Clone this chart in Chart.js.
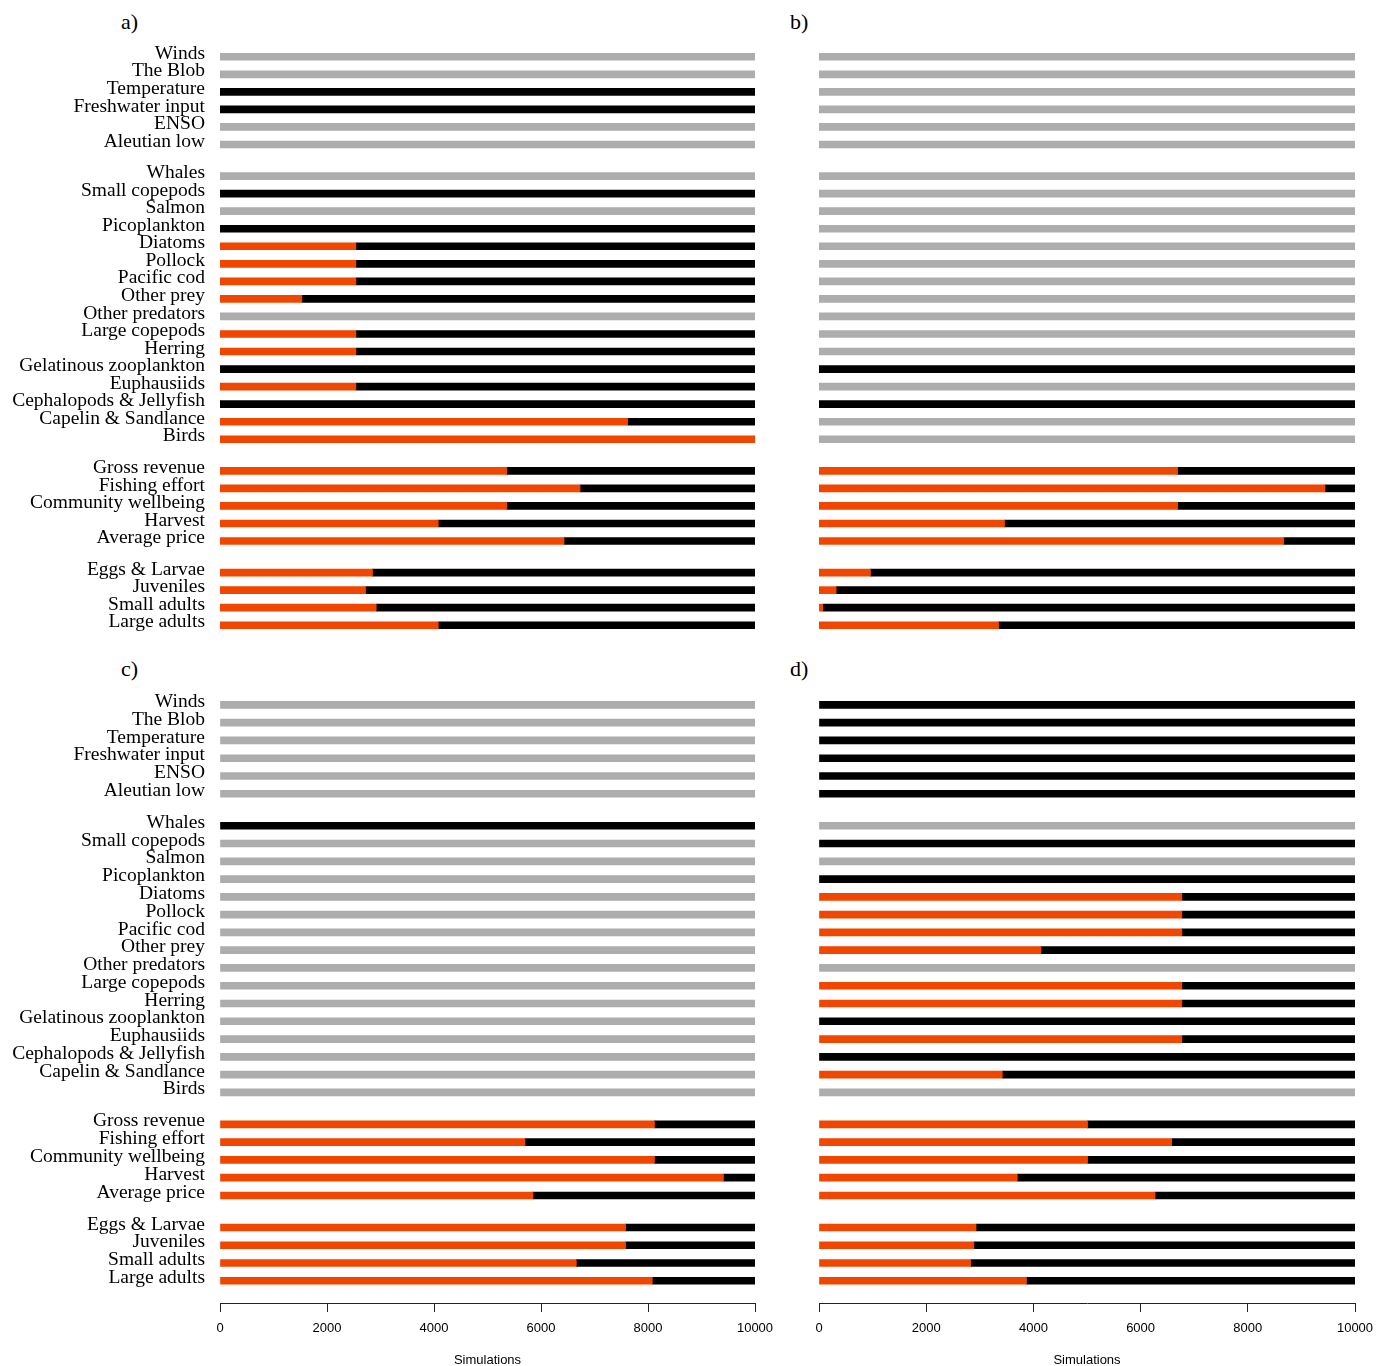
<!DOCTYPE html>
<html lang="en">
<head>
  <meta charset="UTF-8" />
  <title>Simulation outcomes by panel</title>
  <script src="https://cdn.jsdelivr.net/npm/chart.js"></script>
  <style>
    body {
      margin: 0;
      width: 1388px;
      height: 1366px;
      overflow: hidden;
      background: #fff;
      position: relative;
      font-family: 'Liberation Serif', 'Times New Roman', serif;
    }
    canvas { position: absolute; }
    .tag {
      position: absolute;
      font-size: 22px;
      line-height: 1;
      color: #000;
    }
  </style>
</head>
<body>
  <div class="tag" style="left:121px;top:11px">a)</div>
  <div class="tag" style="left:790px;top:11px">b)</div>
  <div class="tag" style="left:121px;top:658px">c)</div>
  <div class="tag" style="left:790px;top:658px">d)</div>

  <canvas id="pa" width="800" height="670" style="left:0;top:0"></canvas>
  <canvas id="pb" width="620" height="670" style="left:780px;top:0"></canvas>
  <canvas id="pc" width="800" height="730" style="left:0;top:650px"></canvas>
  <canvas id="pd" width="620" height="730" style="left:780px;top:650px"></canvas>

  <script>
    const driverLabels = ['Winds', 'The Blob', 'Temperature', 'Freshwater input', 'ENSO', 'Aleutian low'];
    const speciesLabels = ['Whales', 'Small copepods', 'Salmon', 'Picoplankton', 'Diatoms', 'Pollock', 'Pacific cod',
      'Other prey', 'Other predators', 'Large copepods', 'Herring', 'Gelatinous zooplankton', 'Euphausiids',
      'Cephalopods & Jellyfish', 'Capelin & Sandlance', 'Birds'];
    const fisheryLabels = ['Gross revenue', 'Fishing effort', 'Community wellbeing', 'Harvest', 'Average price'];
    const stageLabels = ['Eggs & Larvae', 'Juveniles', 'Small adults', 'Large adults'];

    const xTicks = [0, 2000, 4000, 6000, 8000, 10000];

    // simulations per row: orange part, black part, grey (whole bar)
    const aOrange = [null, null, null, null, null, null,
      null, null, null, null, 2540, 2540, 2540, 1530, null, 2540, 2540, null, 2540, null, 7620, 10000,
      5360, 6730, 5360, 4080, 6430,
      2850, 2720, 2920, 4080];
    const aBlack = [null, null, 10000, 10000, null, null,
      null, 10000, null, 10000, 7460, 7460, 7460, 8470, null, 7460, 7460, 10000, 7460, 10000, 2380, null,
      4640, 3270, 4640, 5920, 3570,
      7150, 7280, 7080, 5920];
    const aGrey = [10000, 10000, null, null, 10000, 10000,
      10000, null, 10000, null, null, null, null, null, 10000, null, null, null, null, null, null, null,
      null, null, null, null, null,
      null, null, null, null];

    const bOrange = [null, null, null, null, null, null,
      null, null, null, null, null, null, null, null, null, null, null, null, null, null, null, null,
      6690, 9440, 6690, 3460, 8670,
      960, 320, 70, 3350];
    const bBlack = [null, null, null, null, null, null,
      null, null, null, null, null, null, null, null, null, null, null, 10000, null, 10000, null, null,
      3310, 560, 3310, 6540, 1330,
      9040, 9680, 9930, 6650];
    const bGrey = [10000, 10000, 10000, 10000, 10000, 10000,
      10000, 10000, 10000, 10000, 10000, 10000, 10000, 10000, 10000, 10000, 10000, null, 10000, null, 10000, 10000,
      null, null, null, null, null,
      null, null, null, null];

    const cOrange = [null, null, null, null, null, null,
      null, null, null, null, null, null, null, null, null, null, null, null, null, null, null, null,
      8120, 5700, 8120, 9410, 5850,
      7580, 7580, 6660, 8080];
    const cBlack = [null, null, null, null, null, null,
      10000, null, null, null, null, null, null, null, null, null, null, null, null, null, null, null,
      1880, 4300, 1880, 590, 4150,
      2420, 2420, 3340, 1920];
    const cGrey = [10000, 10000, 10000, 10000, 10000, 10000,
      null, 10000, 10000, 10000, 10000, 10000, 10000, 10000, 10000, 10000, 10000, 10000, 10000, 10000, 10000, 10000,
      null, null, null, null, null,
      null, null, null, null];

    const dOrange = [null, null, null, null, null, null,
      null, null, null, null, 6770, 6770, 6770, 4140, null, 6770, 6770, null, 6770, null, 3420, null,
      5010, 6580, 5010, 3700, 6270,
      2930, 2890, 2830, 3870];
    const dBlack = [10000, 10000, 10000, 10000, 10000, 10000,
      null, 10000, null, 10000, 3230, 3230, 3230, 5860, null, 3230, 3230, 10000, 3230, 10000, 6580, null,
      4990, 3420, 4990, 6300, 3730,
      7070, 7110, 7170, 6130];
    const dGrey = [null, null, null, null, null, null,
      10000, null, 10000, null, null, null, null, null, 10000, null, null, null, null, null, null, 10000,
      null, null, null, null, null,
      null, null, null, null];

    const ORANGE = '#f04600';
    const BLACK = '#000000';
    const GREY = '#adadad';
    const GAP = 0.8;   // extra space between groups, in rows

    const groups = [driverLabels, speciesLabels, fisheryLabels, stageLabels];
    const labels = groups.flat();
    const rowPos = [];
    groups.forEach((g, gi) => g.forEach(() => rowPos.push(rowPos.length + gi * GAP)));
    const lastPos = rowPos[rowPos.length - 1];

    const serif = "'Liberation Serif', 'Times New Roman', serif";
    const sans = "'Liberation Sans', Arial, sans-serif";

    function series(values, color) {
      return {
        data: rowPos.map((p, i) => ({ x: values[i], y: p })),
        backgroundColor: color,
        borderWidth: 0,
        barThickness: 7
      };
    }

    function makePanel(id, orange, black, grey, cfg) {
      const ctx = document.getElementById(id).getContext('2d');
      return new Chart(ctx, {
        type: 'bar',
        data: {
          datasets: [series(orange, ORANGE), series(black, BLACK), series(grey, GREY)]
        },
        options: {
          indexAxis: 'y',
          responsive: false,
          animation: false,
          devicePixelRatio: 1,
          layout: { padding: cfg.padding },
          plugins: { legend: { display: false }, tooltip: { enabled: false } },
          scales: {
            x: {
              type: 'linear',
              stacked: true,
              min: 0,
              max: 10000,
              display: cfg.axis,
              afterBuildTicks: s => { s.ticks = xTicks.map(v => ({ value: v })); },
              afterFit: s => { s.height = cfg.axis ? 65 : 0; },
              grid: { drawOnChartArea: false, tickLength: 9, color: '#222', lineWidth: 1 },
              border: { display: true, color: '#222', width: 1 },
              ticks: {
                color: '#000',
                padding: 9,
                maxRotation: 0,
                autoSkip: false,
                font: { family: sans, size: 13 },
                callback: v => String(v)
              },
              title: {
                display: true,
                text: 'Simulations',
                color: '#000',
                padding: { top: 4, bottom: 0 },
                font: { family: sans, size: 13 }
              }
            },
            y: {
              type: 'linear',
              stacked: true,
              reverse: true,
              offset: false,
              min: -0.5,
              max: cfg.yMax,
              display: cfg.names,
              afterBuildTicks: s => { s.ticks = rowPos.map(v => ({ value: v })); },
              afterFit: s => { s.width = cfg.names ? 220 : 0; },
              grid: { display: false, drawTicks: false, offset: false },
              border: { display: false },
              ticks: {
                color: '#000',
                padding: 15,
                labelOffset: -3,
                autoSkip: false,
                font: { family: serif, size: 19.5 },
                callback: v => labels[rowPos.indexOf(v)]
              }
            }
          }
        }
      });
    }

    makePanel('pa', aOrange, aBlack, aGrey,
      { names: true, axis: false, yMax: lastPos + 0.5, padding: { top: 48, left: 0, right: 45, bottom: 36 } });
    makePanel('pb', bOrange, bBlack, bGrey,
      { names: false, axis: false, yMax: lastPos + 0.5, padding: { top: 48, left: 39, right: 45, bottom: 36 } });
    makePanel('pc', cOrange, cBlack, cGrey,
      { names: true, axis: true, yMax: lastPos + 1.25, padding: { top: 46, left: 0, right: 45, bottom: 12 } });
    makePanel('pd', dOrange, dBlack, dGrey,
      { names: false, axis: true, yMax: lastPos + 1.25, padding: { top: 46, left: 39, right: 45, bottom: 12 } });
  </script>
</body>
</html>
